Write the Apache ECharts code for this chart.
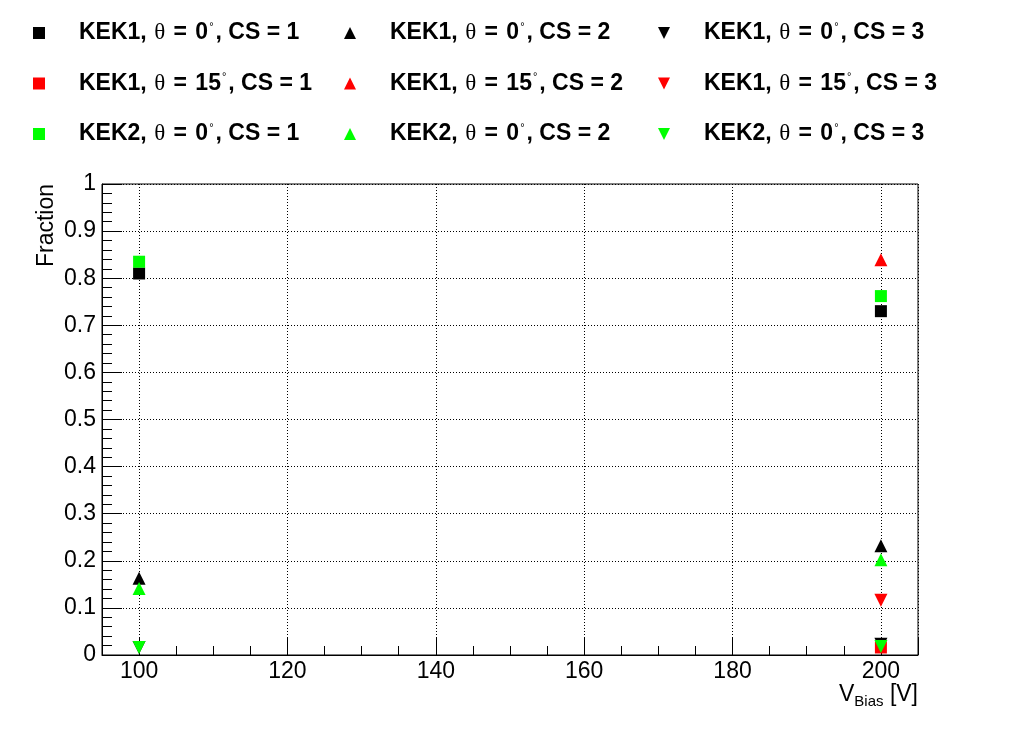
<!DOCTYPE html>
<html>
<head>
<meta charset="utf-8">
<script src="https://cdn.jsdelivr.net/npm/echarts@6/dist/echarts.min.js"></script>
<style>
  html, body { margin: 0; padding: 0; background: #fff; }
  #chart { width: 1020px; height: 740px; }
</style>
</head>
<body>
<div id="chart"></div>
<script>
// bias voltages (x) and measured fractions per cluster size; null = no point
const biasVoltages = [100, 200]
const kek1Theta0Cs1 = [0.810, 0.730]
const kek1Theta0Cs2 = [0.163, 0.232]
const kek1Theta0Cs3 = [0.016, 0.023]
const kek1Theta15Cs1 = [null, 0.016]
const kek1Theta15Cs2 = [null, 0.839]
const kek1Theta15Cs3 = [null, 0.116]
const kek2Theta0Cs1 = [0.835, 0.762]
const kek2Theta0Cs2 = [0.141, 0.202]
const kek2Theta0Cs3 = [0.016, 0.018]

// axis ranges
const xRange = [95, 205]
const yRange = [0, 1]
const yStep = 0.1

const FONT = '"Liberation Sans", Arial, Helvetica, sans-serif'
const downTriangle = 'path://M0,0L10,0L5,10Z'

const groups = [
  { name: 'KEK1, θ = 0°, CS = 1', values: kek1Theta0Cs1, color: '#000000', symbol: 'rect', size: 12 },
  { name: 'KEK1, θ = 0°, CS = 2', values: kek1Theta0Cs2, color: '#000000', symbol: 'triangle', size: 13 },
  { name: 'KEK1, θ = 0°, CS = 3', values: kek1Theta0Cs3, color: '#000000', symbol: downTriangle, size: 13 },
  { name: 'KEK1, θ = 15°, CS = 1', values: kek1Theta15Cs1, color: '#ff0000', symbol: 'rect', size: 12 },
  { name: 'KEK1, θ = 15°, CS = 2', values: kek1Theta15Cs2, color: '#ff0000', symbol: 'triangle', size: 13 },
  { name: 'KEK1, θ = 15°, CS = 3', values: kek1Theta15Cs3, color: '#ff0000', symbol: downTriangle, size: 13 },
  { name: 'KEK2, θ = 0°, CS = 1', values: kek2Theta0Cs1, color: '#00ff00', symbol: 'rect', size: 12 },
  { name: 'KEK2, θ = 0°, CS = 2', values: kek2Theta0Cs2, color: '#00ff00', symbol: 'triangle', size: 13 },
  { name: 'KEK2, θ = 0°, CS = 3', values: kek2Theta0Cs3, color: '#00ff00', symbol: downTriangle, size: 13 }
]

// legend columns: one per cluster size
const legendColumns = [1, 2, 3].map(cs => groups.filter(g => g.name.endsWith('CS = ' + cs)).map(g => g.name))
const legendLeft = [33, 344, 658]

const legendRich = {
  sp: { width: 29, lineHeight: 24 },
  b: { fontFamily: FONT, fontSize: 23, fontWeight: 'bold', color: '#000', lineHeight: 24 },
  e: { fontFamily: FONT, fontSize: 23, fontWeight: 'bold', color: '#000', lineHeight: 24, padding: [0, 2, 0, 0] },
  t: { fontFamily: '"Liberation Serif", serif', fontSize: 23, color: '#000', lineHeight: 24, padding: [0, 2, 0, 1] },
  d: { fontFamily: FONT, fontSize: 11, color: '#000', lineHeight: 6, verticalAlign: 'top', padding: [0, 2, 0, 1] }
}

const legendFormatter = name => {
  const m = name.match(/^(KEK\d), θ = (\d+)°, CS = (\d)$/)
  return `{sp| }{b|${m[1]}, }{t|θ}{e| = }{b|${m[2]}}{d|°}{b|, CS = ${m[3]}}`
}

const chart = echarts.init(document.getElementById('chart'))

const option = {
  animation: false,
  backgroundColor: '#fff',
  legend: legendColumns.map((names, i) => ({
    orient: 'vertical',
    left: legendLeft[i],
    top: 21,
    padding: 0,
    itemWidth: 12,
    itemHeight: 12,
    itemGap: 27,
    selectedMode: false,
    data: names,
    formatter: legendFormatter,
    textStyle: { rich: legendRich }
  })),
  grid: {
    left: 102, right: 102, top: 184, bottom: 85,
    show: true, borderColor: '#000', borderWidth: 1,
    containLabel: false, outerBoundsMode: 'none'
  },
  xAxis: {
    type: 'value',
    min: xRange[0], max: xRange[1], splitNumber: 5,
    name: '{v|V}{s|Bias}{v| [V]}',
    nameLocation: 'end', nameGap: 0, nameMoveOverlap: false,
    nameTextStyle: {
      align: 'right', verticalAlign: 'top', padding: [26, 0, 0, 0],
      rich: {
        v: { fontFamily: FONT, fontSize: 23, color: '#000', lineHeight: 28 },
        s: { fontFamily: FONT, fontSize: 15, color: '#000', lineHeight: 14, verticalAlign: 'bottom' }
      }
    },
    axisLine: { lineStyle: { color: '#000', width: 1 } },
    axisTick: { inside: true, length: 17, lineStyle: { color: '#000' } },
    minorTick: { show: true, splitNumber: 4, length: 9, lineStyle: { color: '#000' } },
    axisLabel: {
      color: '#000', fontFamily: FONT, fontSize: 23, margin: 5,
      formatter: v => (v % 20 === 0 ? String(v) : '')
    },
    splitLine: { show: true, lineStyle: { color: '#000', width: 1, type: [1, 2] } }
  },
  yAxis: {
    type: 'value',
    min: yRange[0], max: yRange[1], interval: yStep,
    name: 'Fraction',
    nameLocation: 'end', nameGap: 0, nameRotate: 90, nameMoveOverlap: false,
    nameTextStyle: {
      fontFamily: FONT, fontSize: 23, color: '#000',
      align: 'right', verticalAlign: 'bottom', padding: [0, 0, 44, 0]
    },
    axisLine: { show: true, lineStyle: { color: '#000', width: 1 } },
    axisTick: { inside: true, length: 20, lineStyle: { color: '#000' } },
    minorTick: { show: true, splitNumber: 5, length: 10, lineStyle: { color: '#000' } },
    axisLabel: { color: '#000', fontFamily: FONT, fontSize: 23, margin: 6 },
    splitLine: { show: true, lineStyle: { color: '#000', width: 1, type: [1, 2] } }
  },
  series: groups.map(g => ({
    name: g.name,
    type: 'scatter',
    symbol: g.symbol,
    symbolSize: g.size,
    itemStyle: { color: g.color, opacity: 1 },
    emphasis: { disabled: true },
    data: biasVoltages.map((x, i) => [x, g.values[i]]).filter(p => p[1] !== null)
  }))
}

chart.setOption(option)
</script>
</body>
</html>
